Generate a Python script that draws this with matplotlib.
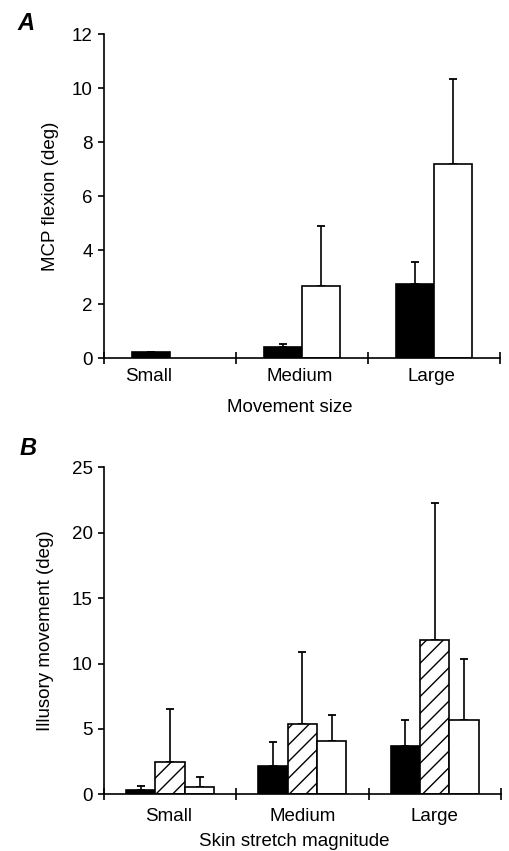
import numpy as np
import matplotlib
matplotlib.use("Agg")
import matplotlib.pyplot as plt

plt.rcParams['font.family'] = ['Liberation Sans', 'DejaVu Sans']
plt.rcParams['hatch.linewidth'] = 1.0

sizes = ["Small", "Medium", "Large"]

# panel A: MCP flexion (deg), mean and upward SD
a_black = [0.22, 0.41, 2.76]
a_black_sd = [0.02, 0.12, 0.78]
a_white = [0.0, 2.67, 7.20]
a_white_sd = [0.0, 2.23, 3.13]

# panel B: illusory movement (deg)
b_black = [0.31, 2.14, 3.67]
b_black_sd = [0.30, 1.86, 1.99]
b_hatch = [2.45, 5.35, 11.80]
b_hatch_sd = [4.07, 5.51, 10.50]
b_white = [0.54, 4.08, 5.66]
b_white_sd = [0.79, 2.01, 4.69]

lw = 1.2
fs = 13.5


def draw_bars(ax, x, vals, sds, width, face, hatch=None):
    for xi, v, s in zip(x, vals, sds):
        if v <= 0:
            continue
        ax.bar(xi, v, width, color=face, edgecolor='black', linewidth=lw,
               hatch=hatch, zorder=2)
        if s > 0:
            ax.errorbar(xi, v, yerr=[[0], [s]], fmt='none', ecolor='black',
                        elinewidth=1.2, capsize=3, capthick=1.3, zorder=1)


def style_axis(ax, label_pos, pad):
    for sp in ['top', 'right']:
        ax.spines[sp].set_visible(False)
    ax.spines['left'].set_linewidth(lw)
    ax.spines['bottom'].set_linewidth(lw)
    ax.set_xlim(0, 3)
    ax.set_xticks([0, 1, 2, 3])
    ax.set_xticklabels([])
    ax.tick_params(axis='x', which='major', direction='inout', length=8, width=lw)
    ax.set_xticks(label_pos, minor=True)
    ax.set_xticklabels(sizes, minor=True, fontsize=fs)
    ax.tick_params(axis='x', which='minor', length=0, pad=pad)
    ax.tick_params(axis='y', direction='out', length=4, width=lw, labelsize=fs, pad=4)


fig = plt.figure(figsize=(5.1, 8.51), dpi=100)

centers = np.arange(3) + 0.5

# ---- A ----
ax1 = fig.add_axes([0.204, 0.5793, 0.776, 0.3807])
wa = 0.29
draw_bars(ax1, centers - wa / 2, a_black, a_black_sd, wa, 'black')
draw_bars(ax1, centers + wa / 2, a_white, a_white_sd, wa, 'white')
ax1.set_ylim(0, 12)
ax1.set_yticks(np.arange(0, 13, 2))
style_axis(ax1, [0.34, 1.485, 2.48], 7)
ax1.set_ylabel("MCP flexion (deg)", fontsize=fs)
ax1.yaxis.set_label_coords(-0.115, 0.5)
ax1.set_xlabel("Movement size", fontsize=fs)
ax1.xaxis.set_label_coords(0.47, -0.128)

# ---- B ----
ax2 = fig.add_axes([0.204, 0.0666, 0.778, 0.3843])
wb = 0.222
draw_bars(ax2, centers - wb, b_black, b_black_sd, wb, 'black')
draw_bars(ax2, centers, b_hatch, b_hatch_sd, wb, 'white', hatch='//')
draw_bars(ax2, centers + wb, b_white, b_white_sd, wb, 'white')
ax2.set_ylim(0, 25)
ax2.set_yticks(np.arange(0, 26, 5))
style_axis(ax2, [0.49, 1.5, 2.5], 10)
ax2.set_ylabel("Illusory movement (deg)", fontsize=fs)
ax2.yaxis.set_label_coords(-0.126, 0.5)
ax2.set_xlabel("Skin stretch magnitude", fontsize=fs)
ax2.xaxis.set_label_coords(0.479, -0.117)

fig.text(0.035, 0.972, "A", fontsize=17, fontweight='bold', fontstyle='italic', va='center')
fig.text(0.039, 0.4724, "B", fontsize=17, fontweight='bold', fontstyle='italic', va='center')

fig.savefig("out.png", dpi=100)
